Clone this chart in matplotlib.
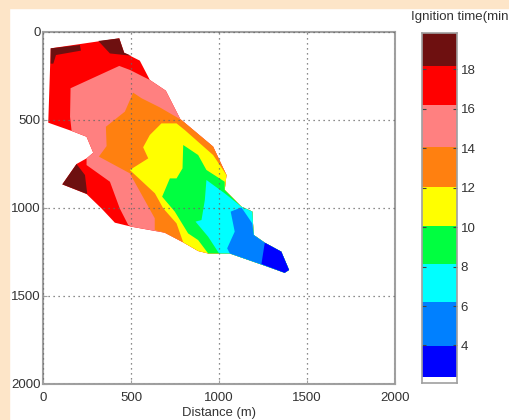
import matplotlib
matplotlib.use('Agg')
import matplotlib.pyplot as plt
from matplotlib.colors import ListedColormap, BoundaryNorm
from matplotlib.patches import Rectangle
import numpy as np

plt.rcParams['font.family'] = ['Liberation Sans', 'DejaVu Sans']

# burned area outline (distance in m)
area_x = [41, 431, 459, 548, 605, 696, 779, 785, 965, 1041, 1031, 1126, 1188, 1196, 1259, 1353, 1397, 1372, 1249, 1060, 937, 880, 795, 690, 501, 406, 330, 245, 107, 188, 245, 283, 245, 160, 27]
area_y = [93, 36, 118, 163, 273, 334, 497, 501, 652, 814, 899, 994, 1022, 1155, 1199, 1250, 1354, 1370, 1326, 1260, 1260, 1246, 1197, 1142, 1108, 1085, 1004, 922, 867, 751, 719, 687, 596, 563, 516]

# darkest patches (ignition after 18 min)
dark1_x = [41, 207, 213, 71, 56, 41]
dark1_y = [93, 74, 106, 131, 180, 180]
dark2_x = [312, 431, 459, 500, 378]
dark2_y = [51, 36, 118, 135, 122]
dark3_x = [107, 188, 236, 249]
dark3_y = [867, 751, 814, 922]

# region burned before 16 min
pink_x = [154, 431, 492, 605, 696, 779, 785, 965, 1041, 1031, 1126, 1188, 1196, 1259, 1353, 1397, 1372, 1249, 1060, 937, 880, 795, 690, 501, 482, 434, 378, 245, 245, 283, 245, 160, 151]
pink_y = [320, 193, 216, 273, 334, 497, 501, 652, 814, 899, 994, 1022, 1155, 1199, 1250, 1354, 1370, 1326, 1260, 1260, 1246, 1197, 1142, 1108, 1098, 1004, 852, 757, 719, 687, 596, 563, 482]

# region burned before 14 min
orange_x = [510, 558, 662, 779, 785, 965, 1041, 1031, 1126, 1188, 1196, 1259, 1353, 1397, 1372, 1249, 1060, 937, 880, 795, 690, 633, 633, 586, 491, 315, 359, 355, 463]
orange_y = [345, 377, 429, 497, 501, 652, 814, 899, 994, 1022, 1155, 1199, 1250, 1354, 1370, 1326, 1260, 1260, 1246, 1197, 1142, 1127, 1060, 975, 804, 709, 649, 539, 453]

# region burned before 12 min
yellow_x = [671, 757, 804, 889, 965, 1041, 1031, 1126, 1188, 1196, 1259, 1353, 1397, 1372, 1249, 1060, 937, 880, 795, 757, 681, 634, 491, 596, 567, 605]
yellow_y = [520, 520, 558, 633, 700, 814, 899, 994, 1022, 1155, 1199, 1250, 1354, 1370, 1326, 1260, 1260, 1246, 1197, 1089, 1003, 918, 785, 719, 656, 586]

# region burned before 10 min
green_x = [795, 880, 927, 1031, 1031, 1126, 1188, 1196, 1259, 1353, 1397, 1372, 1249, 1060, 937, 880, 823, 747, 675, 719, 757, 791]
green_y = [643, 700, 785, 852, 899, 994, 1022, 1155, 1199, 1250, 1354, 1370, 1326, 1260, 1260, 1184, 1146, 1022, 937, 833, 833, 776]

# region burned before 8 min
cyan_x = [927, 1031, 1126, 1188, 1196, 1259, 1353, 1397, 1372, 1249, 1060, 999, 937, 865, 899, 918]
cyan_y = [842, 918, 994, 1022, 1155, 1199, 1250, 1354, 1370, 1326, 1260, 1260, 1165, 1079, 1070, 956]

# region burned before 6 min
azure_x = [1065, 1126, 1188, 1196, 1259, 1353, 1397, 1372, 1249, 1060, 1045, 1088]
azure_y = [1022, 998, 1089, 1155, 1199, 1250, 1354, 1370, 1326, 1260, 1231, 1136]

# region burned before 4 min
blue_x = [1259, 1353, 1397, 1372, 1240]
blue_y = [1199, 1250, 1354, 1370, 1320]

# colorbar bands
cbar_edges = [2.4, 3.95, 6.19, 8.13, 10.06, 12.05, 14.03, 16.2, 18.15, 19.83]
cbar_colors = ['#0000ff', '#0080ff', '#00ffff', '#00ff40', '#ffff00', '#ff8010', '#ff8080', '#ff0000', '#6e1010']
cbar_ticks = [4, 6, 8, 10, 12, 14, 16, 18]
axis_ticks = [0, 500, 1000, 1500, 2000]

text_col = '#333333'
line_col = '#a0a0a0'

fig = plt.figure(figsize=(5.1, 4.2), dpi=100, facecolor='white')
fig.patches.append(Rectangle((0, 0), 9 / 510, 1, transform=fig.transFigure, color='#fde5c8', zorder=-5))
fig.patches.append(Rectangle((0, 1 - 8 / 420), 1, 8 / 420, transform=fig.transFigure, color='#fde5c8', zorder=-5))

ax = fig.add_axes([43.5 / 510, 1 - 383.5 / 420, 351.5 / 510, 351.5 / 420])
ax.fill(area_x, area_y, color='#ff0000', lw=0)
ax.fill(dark1_x, dark1_y, color='#6e1010', lw=0)
ax.fill(dark2_x, dark2_y, color='#6e1010', lw=0)
ax.fill(dark3_x, dark3_y, color='#6e1010', lw=0)
ax.fill(pink_x, pink_y, color='#ff8080', lw=0)
ax.fill(orange_x, orange_y, color='#ff8010', lw=0)
ax.fill(yellow_x, yellow_y, color='#ffff00', lw=0)
ax.fill(green_x, green_y, color='#00ff40', lw=0)
ax.fill(cyan_x, cyan_y, color='#00ffff', lw=0)
ax.fill(azure_x, azure_y, color='#0080ff', lw=0)
ax.fill(blue_x, blue_y, color='#0000ff', lw=0)

ax.set_xlim(0, 2000)
ax.set_ylim(2000, 0)
ax.set_xticks(axis_ticks)
ax.set_yticks(axis_ticks)
ax.set_axisbelow(False)
ax.grid(True, color='#666666', linestyle=(0, (1, 3)), linewidth=0.9)
ax.tick_params(direction='in', length=3, width=0.8, color=line_col, labelsize=9.5, labelcolor=text_col, pad=2)
ax.tick_params(axis='x', pad=6)
for s in ax.spines.values():
    s.set_color(line_col)
    s.set_linewidth(1.5)
ax.set_xlabel('Distance (m)', fontsize=9.4, color=text_col, labelpad=2)

cax = fig.add_axes([422 / 510, 1 - 383 / 420, 35 / 510, 350 / 420])
cmap = ListedColormap(cbar_colors)
norm = BoundaryNorm(cbar_edges, cmap.N)
vals = np.array(cbar_edges[:-1]).reshape(-1, 1)
cax.pcolormesh([0, 1], cbar_edges, vals, cmap=cmap, norm=norm)
cax.set_ylim(2.1, 19.83)
cax.set_xlim(0, 1)
cax.set_xticks([])
cax.yaxis.tick_right()
cax.set_yticks(cbar_ticks)
cax.tick_params(direction='in', length=3, width=0.8, color='#444444', labelsize=9.5, labelcolor=text_col, pad=2.5, left=True, right=True)
for s in cax.spines.values():
    s.set_color(line_col)
    s.set_linewidth(1.2)

# the reference shows the title cut at "min", without the closing bracket
fig.text(411 / 510, 1 - 17 / 420, 'Ignition time(min', fontsize=9.5, color=text_col, va='center', ha='left')

plt.savefig('out.png', dpi=100)
